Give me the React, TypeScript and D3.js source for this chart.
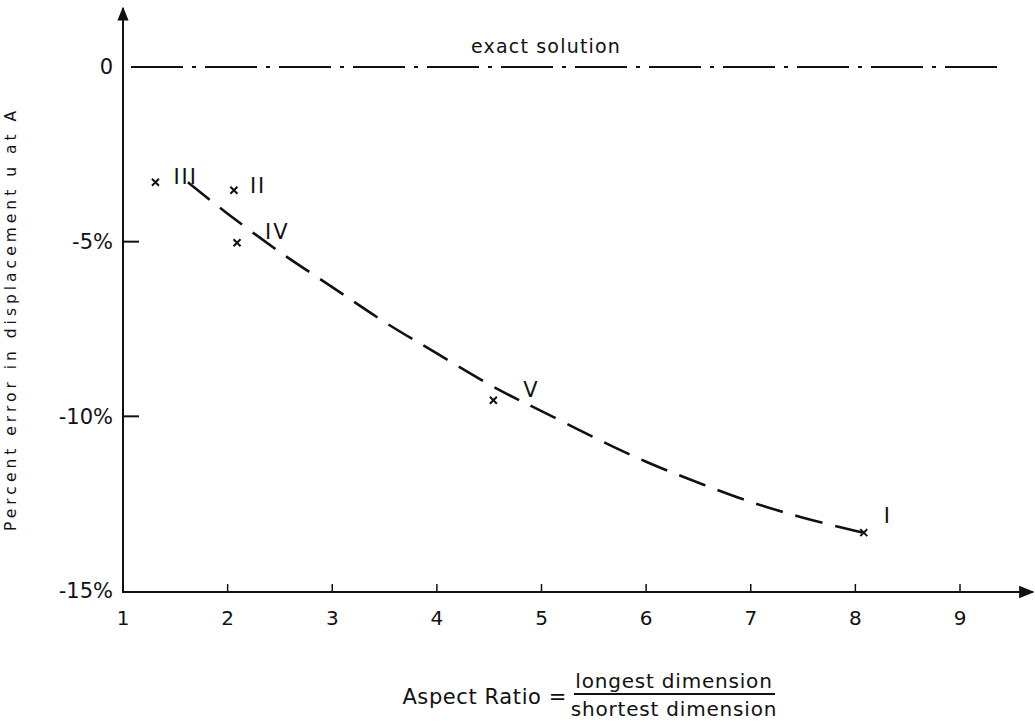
import React from 'react'
import * as d3 from 'd3'

// x ticks / y ticks
const xTicks = [1, 2, 3, 4, 5, 6, 7, 8, 9]
const yTicks = [0, -5, -10, -15]
const yTickLabels = ['0', '-5%', '-10%', '-15%']

// measured cases
const caseNames = ['III', 'II', 'IV', 'V', 'I']
const caseAspect = [1.31, 2.06, 2.09, 4.54, 8.08]
const caseError = [-3.3, -3.53, -5.03, -9.54, -13.33]

// fitted (dashed) curve
const curveAspect = [1.62, 2.0, 2.5, 3.0, 3.5, 4.0, 4.6, 5.0, 5.5, 6.0, 6.5, 7.0, 7.5, 8.07]
const curveError = [-3.3, -4.2, -5.3, -6.3, -7.3, -8.2, -9.25, -9.85, -10.6, -11.3, -11.9, -12.45, -12.9, -13.33]

const W = 1035
const H = 722
const font = '"DejaVu Sans", "Open Sans", sans-serif'

// label nudges for the roman numerals
const labelOffset: Record<string, [number, number]> = {
  III: [18, -6],
  II: [16, -5],
  IV: [28, -11],
  V: [30, -11],
  I: [20, -17],
}

export default function App() {
  const x = d3.scaleLinear().domain([1, 9]).range([123, 960])
  const y = d3.scaleLinear().domain([-15, 0]).range([591, 67])

  const line = d3
    .line<number>()
    .x((d) => x(d))
    .y((_, i) => y(curveError[i]))
    .curve(d3.curveCatmullRom)

  const x0 = x(1)
  const yBase = y(-15)

  return (
    <svg
      width={W}
      height={H}
      style={{ position: 'absolute', left: 0, top: 0, background: '#fff' }}
      fontFamily={font}
    >
      <defs>
        <marker id="arrow" viewBox="0 0 10 10" refX="9" refY="5" markerWidth="7" markerHeight="7" orient="auto">
          <path d="M0,1 L10,5 L0,9 Z" fill="#111" />
        </marker>
      </defs>

      {/* y axis */}
      <line x1={x0} y1={yBase + 1} x2={x0} y2={8} stroke="#111" strokeWidth={2} markerEnd="url(#arrow)" />
      {/* x axis */}
      <line x1={x0 - 1} y1={yBase + 1} x2={1033} y2={yBase + 1} stroke="#111" strokeWidth={2.2} markerEnd="url(#arrow)" />

      {/* y ticks */}
      {yTicks.map((t, i) => (
        <g key={'yt' + t}>
          {t !== 0 && t !== -15 && (
            <line x1={x0} x2={x0 + 16} y1={y(t)} y2={y(t)} stroke="#111" strokeWidth={2} />
          )}
          <text
            x={t === 0 ? x0 - 10 : x0 - 10}
            y={y(t)}
            dy="0.35em"
            textAnchor="end"
            fontSize={21}
            fill="#111"
          >
            {yTickLabels[i]}
          </text>
        </g>
      ))}

      {/* x ticks */}
      {xTicks.map((t) => (
        <g key={'xt' + t}>
          {t !== 1 && (
            <line x1={x(t)} x2={x(t)} y1={yBase - 7} y2={yBase} stroke="#111" strokeWidth={1.5} />
          )}
          <text x={x(t)} y={yBase + 34} textAnchor="middle" fontSize={20} fill="#111">
            {t}
          </text>
        </g>
      ))}

      {/* exact solution */}
      <line
        x1={x0 + 8}
        x2={998}
        y1={y(0)}
        y2={y(0)}
        stroke="#111"
        strokeWidth={2.2}
        strokeDasharray="52 9 4 9"
      />
      <text x={546} y={y(0) - 14} textAnchor="middle" fontSize={19} fill="#111" letterSpacing={1.2}>
        exact solution
      </text>

      {/* dashed fit */}
      <path
        d={line(curveAspect) ?? ''}
        fill="none"
        stroke="#111"
        strokeWidth={2.6}
        strokeDasharray="28 13"
      />

      {/* case markers */}
      {caseNames.map((n, i) => {
        const cx = x(caseAspect[i])
        const cy = y(caseError[i])
        const s = 3.5
        const [dx, dy] = labelOffset[n]
        return (
          <g key={n}>
            <path
              d={`M${cx - s},${cy - s}L${cx + s},${cy + s}M${cx - s},${cy + s}L${cx + s},${cy - s}`}
              stroke="#111"
              strokeWidth={2}
            />
            <text x={cx + dx} y={cy + dy} fontSize={21} fill="#111" dy="0.35em" letterSpacing={2}>
              {n}
            </text>
          </g>
        )
      })}

      {/* y axis title */}
      <text
        transform={`translate(16, ${319}) rotate(-90)`}
        textAnchor="middle"
        fontSize={15.5}
        letterSpacing={4}
        fill="#111"
      >
        Percent error in displacement u at A
      </text>

      {/* x axis title */}
      <text x={567} y={704} textAnchor="end" fontSize={21} fill="#111" letterSpacing={0.6}>
        Aspect Ratio =
      </text>
      <text x={674} y={688} textAnchor="middle" fontSize={20} fill="#111" letterSpacing={0.8}>
        longest dimension
      </text>
      <line x1={574} x2={775} y1={694} y2={694} stroke="#111" strokeWidth={2} />
      <text x={674} y={716} textAnchor="middle" fontSize={20} fill="#111" letterSpacing={0.8}>
        shortest dimension
      </text>
    </svg>
  )
}
